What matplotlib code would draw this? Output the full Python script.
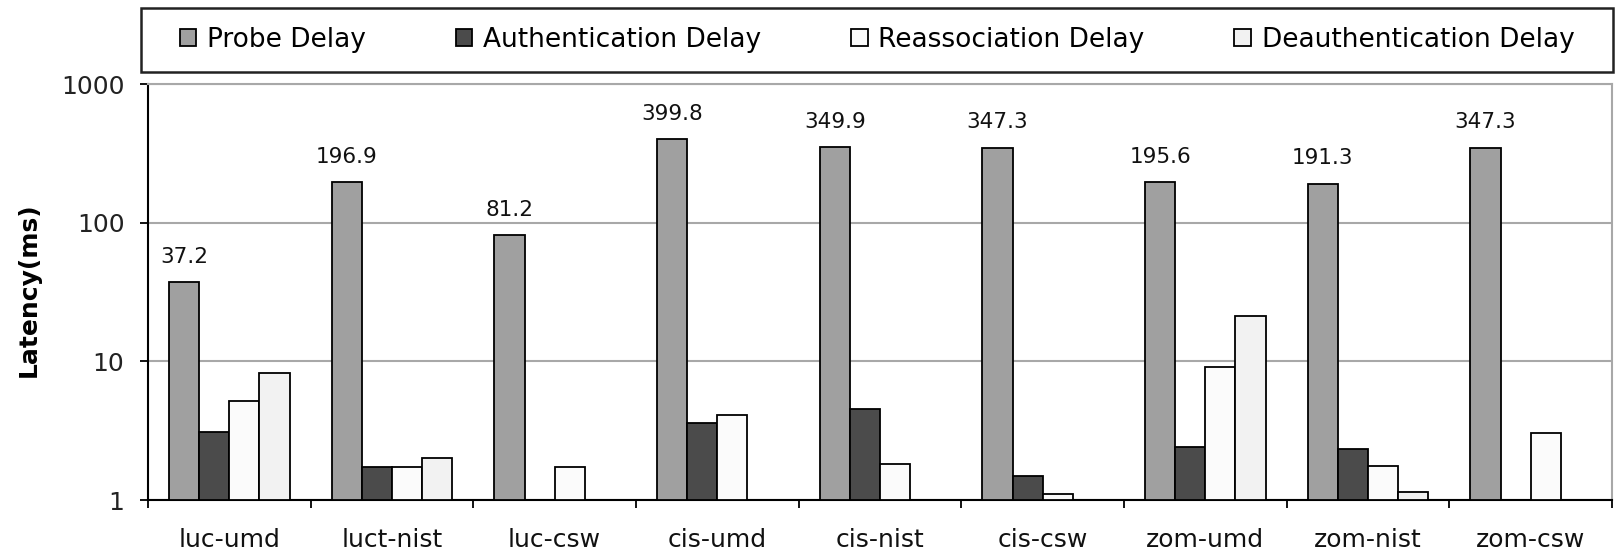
import numpy as np
import matplotlib
matplotlib.use("Agg")
import matplotlib.pyplot as plt
from matplotlib.patches import Rectangle

categories = ["luc-umd", "luct-nist", "luc-csw", "cis-umd", "cis-nist",
              "cis-csw", "zom-umd", "zom-nist", "zom-csw"]
series_names = ["Probe Delay", "Authentication Delay", "Reassociation Delay",
                "Deauthentication Delay"]
probe = [37.2, 196.9, 81.2, 399.8, 349.9, 347.3, 195.6, 191.3, 347.3]
auth = [3.07, 1.74, np.nan, 3.58, 4.55, 1.49, 2.43, 2.34, np.nan]
reassoc = [5.2, 1.74, 1.74, 4.1, 1.82, 1.11, 9.05, 1.76, 3.05]
deauth = [8.2, 2.0, np.nan, np.nan, np.nan, np.nan, 21.4, 1.14, np.nan]
yticks = [1, 10, 100, 1000]

colors = ["#A0A0A0", "#4B4B4B", "#FBFBFB", "#F2F2F2"]

plt.rcParams['font.family'] = ['DejaVu Sans']

W, H = 1620, 552
fig = plt.figure(figsize=(W / 100, H / 100), dpi=100)
ax = fig.add_axes([148 / W, (H - 500) / H, (1612 - 148) / W, (500 - 84) / H])

x = np.arange(len(categories))
w = 0.185
data = [probe, auth, reassoc, deauth]
handles = []
for k, vals in enumerate(data):
    v = np.array(vals, dtype=float)
    mask = ~np.isnan(v)
    b = ax.bar(x[mask] + (k - 1.5) * w, v[mask] - 1, width=w, bottom=1,
               color=colors[k], edgecolor="black", linewidth=1.3,
               label=series_names[k], zorder=3)
    handles.append(b)

for xi, v in zip(x, probe):
    ax.annotate(f"{v:.1f}", xy=(xi - 1.5 * w, v), xytext=(0, 11),
                textcoords="offset points", ha="center", va="bottom",
                fontsize=15.5, color="#111111")

ax.set_yscale("log")
ax.set_ylim(1, 1000)
ax.set_xlim(-0.5, len(categories) - 0.5)
ax.set_yticks(yticks)
ax.set_yticklabels([str(t) for t in yticks], fontsize=18, color="#222222")
ax.yaxis.set_minor_locator(matplotlib.ticker.NullLocator())
ax.set_xticks(x)
ax.set_xticklabels(categories, fontsize=18, color="#111111")
ax.tick_params(axis="x", which="major", length=0, pad=20)
ax.set_xticks(np.arange(-0.5, len(categories), 1.0), minor=True)
ax.tick_params(axis="x", which="minor", length=6, width=1.3, direction="out")
ax.tick_params(axis="y", length=6, width=1.3, direction="out", pad=11)

ax.grid(axis="y", color="#A8A8A8", linewidth=1.5, zorder=0)
for s in ["top", "right"]:
    ax.spines[s].set_color("#A8A8A8")
    ax.spines[s].set_linewidth(1.5)
for s in ["left", "bottom"]:
    ax.spines[s].set_color("black")
    ax.spines[s].set_linewidth(1.5)

fig.text(29 / W, 1 - 290 / H, "Latency(ms)", rotation=90, ha="center",
         va="center", fontsize=18, fontweight="bold")

# legend frame
fig.patches.append(Rectangle((141 / W, (H - 72) / H), (1613 - 141) / W, 64 / H,
                             transform=fig.transFigure, facecolor="white",
                             edgecolor="#222222", linewidth=1.8))
fig.legend(handles=handles, loc="center",
           bbox_to_anchor=((141 + 1613) / 2 / W, 1 - 40 / H),
           ncol=4, frameon=False, fontsize=19, handlelength=0.64,
           handleheight=0.6, handletextpad=0.4, columnspacing=3.4)

fig.savefig("out.png", dpi=100)
